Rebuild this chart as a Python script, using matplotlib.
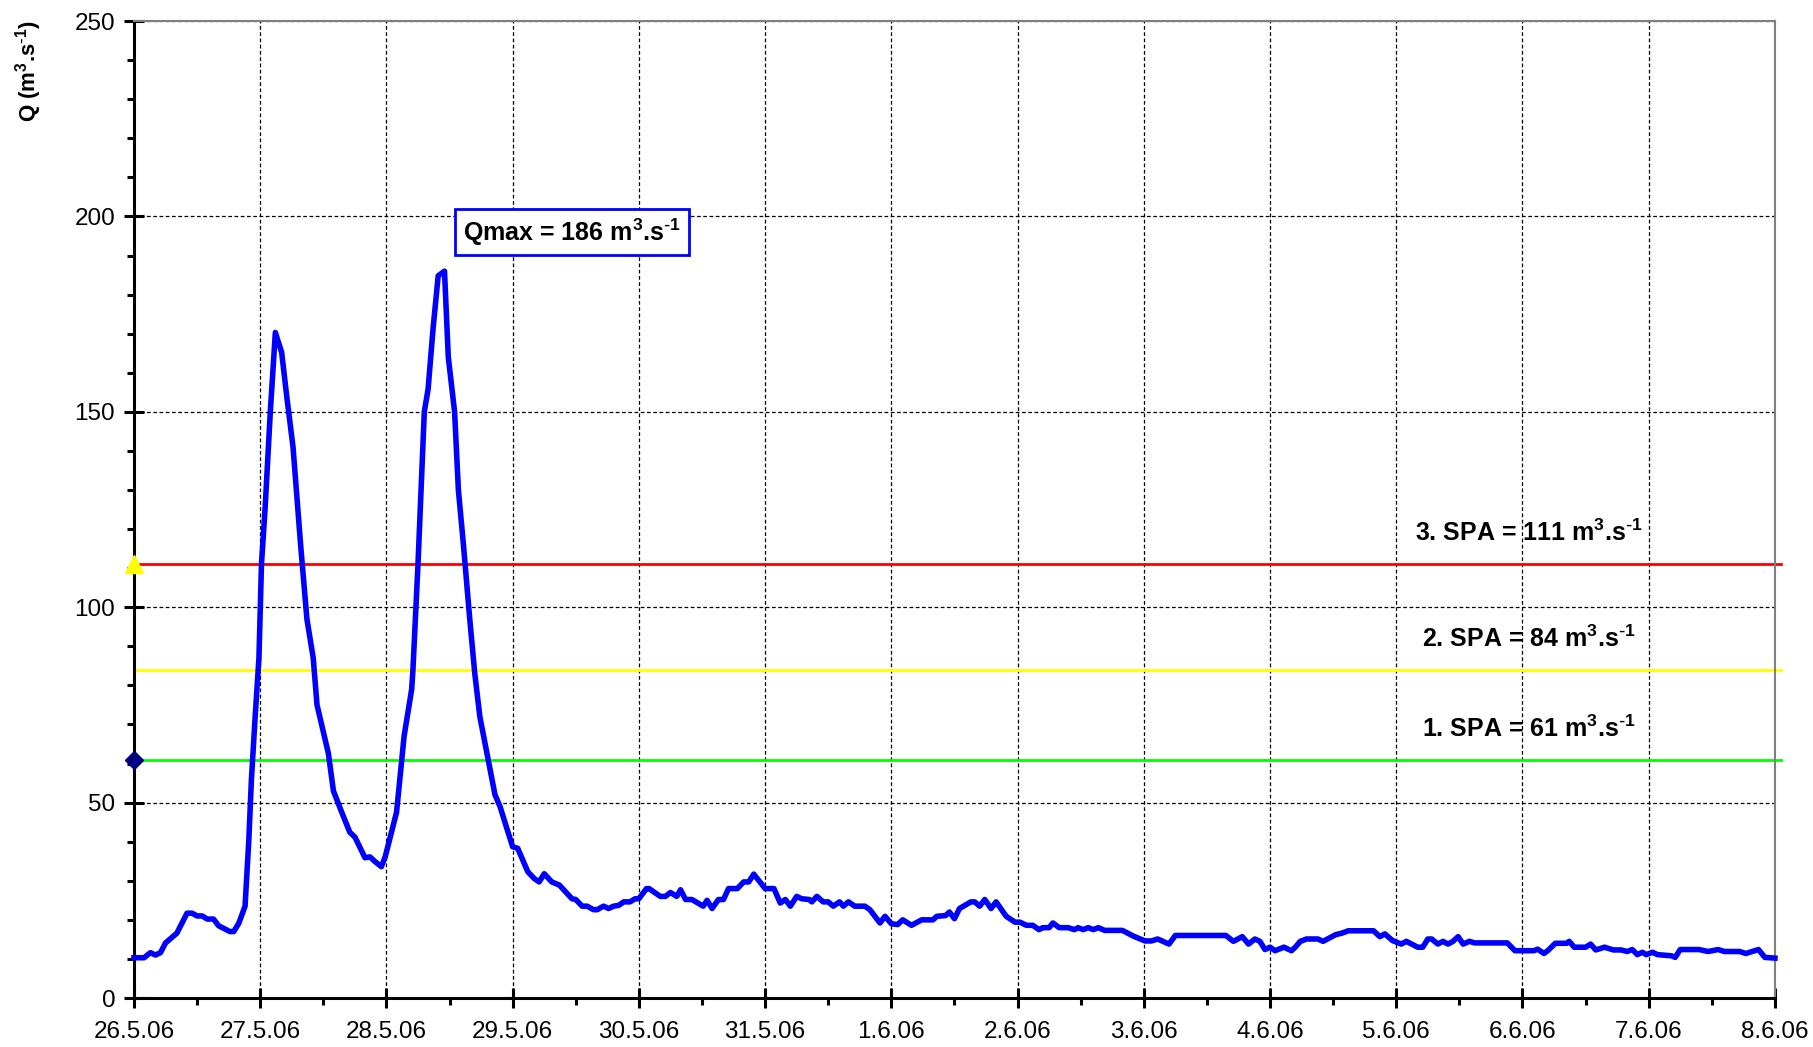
import matplotlib
matplotlib.use("Agg")
import matplotlib.pyplot as plt
from matplotlib.ticker import MultipleLocator

plt.rcParams["font.family"] = ["Liberation Sans", "DejaVu Sans"]
plt.rcParams["mathtext.default"] = "regular"

# discharge Q (m3/s), time in days since 26.5.06 00:00
t_days = [
    0.00, 0.08, 0.13, 0.17, 0.21, 0.25, 0.34, 0.42, 0.46, 0.50, 0.54, 0.58, 0.63,
    0.67, 0.76, 0.79, 0.83, 0.88, 0.91, 0.93, 0.96, 0.99, 1.01, 1.04, 1.08, 1.12,
    1.17, 1.21, 1.26, 1.32, 1.37, 1.42, 1.45, 1.49, 1.54, 1.58, 1.64, 1.71, 1.75,
    1.83, 1.87, 1.91, 1.96, 1.99, 2.08, 2.14, 2.20, 2.21, 2.25, 2.30, 2.33, 2.37,
    2.41, 2.46, 2.49, 2.54, 2.57, 2.61, 2.66, 2.70, 2.74, 2.80, 2.86, 2.90, 2.95,
    3.00, 3.04, 3.12, 3.17, 3.21, 3.25, 3.31, 3.37, 3.47, 3.50, 3.55, 3.59, 3.64,
    3.67, 3.72, 3.76, 3.80, 3.84, 3.88, 3.93, 3.97, 4.00, 4.06, 4.08, 4.17, 4.21,
    4.25, 4.30, 4.33, 4.37, 4.42, 4.51, 4.54, 4.58, 4.63, 4.67, 4.71, 4.78, 4.83,
    4.87, 4.91, 5.00, 5.07, 5.12, 5.16, 5.20, 5.25, 5.29, 5.35, 5.37, 5.41, 5.46,
    5.50, 5.54, 5.59, 5.62, 5.66, 5.71, 5.79, 5.83, 5.91, 5.95, 6.00, 6.05, 6.09,
    6.16, 6.24, 6.33, 6.36, 6.43, 6.46, 6.50, 6.54, 6.63, 6.66, 6.70, 6.74, 6.79,
    6.83, 6.91, 6.98, 7.02, 7.07, 7.12, 7.17, 7.20, 7.25, 7.28, 7.33, 7.40, 7.45,
    7.48, 7.52, 7.56, 7.60, 7.64, 7.69, 7.83, 7.92, 8.01, 8.06, 8.11, 8.20, 8.25,
    8.65, 8.71, 8.78, 8.83, 8.88, 8.92, 8.96, 9.00, 9.04, 9.11, 9.17, 9.20, 9.24,
    9.29, 9.38, 9.42, 9.52, 9.57, 9.62, 9.82, 9.87, 9.91, 9.97, 10.04, 10.08, 10.17,
    10.21, 10.25, 10.28, 10.33, 10.37, 10.41, 10.45, 10.49, 10.53, 10.58, 10.62,
    10.88, 10.94, 11.09, 11.12, 11.17, 11.20, 11.26, 11.35, 11.37, 11.41, 11.50,
    11.54, 11.58, 11.65, 11.72, 11.78, 11.83, 11.87, 11.91, 11.95, 11.98, 12.03,
    12.07, 12.18, 12.21, 12.25, 12.40, 12.47, 12.55, 12.60, 12.72, 12.77, 12.87,
    12.92, 13.00,
]
q = [
    10.3, 10.3, 11.6, 11.0, 11.6, 14.1, 16.6, 21.7, 21.7, 21.0, 21.0, 20.2, 20.2,
    18.5, 17.0, 17.0, 19.1, 23.5, 40.6, 55.7, 72.0, 87.0, 111.0, 126.0, 150.0, 170.3,
    165.2, 154.0, 141.0, 116.0, 97.0, 87.0, 75.0, 69.5, 62.6, 53.0, 48.0, 42.4, 41.2,
    35.9, 36.1, 34.9, 33.6, 36.1, 47.5, 67.0, 79.0, 84.0, 111.0, 150.0, 155.8, 171.5,
    184.8, 186.0, 164.0, 150.0, 130.0, 116.0, 97.0, 83.0, 72.0, 62.0, 52.0, 49.0, 43.8,
    38.7, 38.3, 32.3, 30.6, 29.7, 31.8, 29.7, 28.9, 25.4, 25.2, 23.5, 23.5, 22.6,
    22.6, 23.5, 22.9, 23.5, 23.7, 24.6, 24.6, 25.4, 25.4, 28.0, 28.0, 26.0, 26.0,
    27.0, 26.0, 27.7, 25.2, 25.2, 23.5, 25.0, 22.9, 25.2, 25.2, 28.0, 28.0, 29.7,
    29.7, 31.7, 28.0, 28.0, 24.3, 25.2, 23.5, 26.0, 25.4, 25.2, 24.6, 26.0, 24.6,
    24.6, 23.5, 24.6, 23.5, 24.6, 23.5, 23.5, 22.6, 19.2, 20.9, 19.0, 18.8, 20.0,
    18.6, 20.0, 20.0, 20.9, 21.1, 22.0, 20.3, 22.9, 24.6, 24.6, 23.5, 25.2, 22.9,
    24.6, 20.9, 19.4, 19.4, 18.6, 18.6, 17.5, 18.0, 18.0, 19.2, 18.0, 18.0, 17.5,
    18.0, 17.5, 18.0, 17.5, 18.0, 17.3, 17.3, 15.8, 14.6, 14.6, 15.1, 13.8, 16.0,
    16.0, 14.5, 15.7, 13.8, 15.1, 14.5, 12.4, 13.0, 12.1, 13.0, 12.1, 13.0, 14.5,
    15.1, 15.1, 14.5, 16.2, 16.6, 17.2, 17.2, 15.7, 16.4, 14.7, 13.8, 14.5, 13.0,
    13.0, 15.1, 15.1, 13.8, 14.5, 13.8, 14.5, 15.7, 13.8, 14.5, 14.1,
    14.1, 12.1, 12.1, 12.5, 11.4, 12.1, 14.0, 14.0, 14.5, 13.0, 13.0,
    13.8, 12.3, 13.0, 12.3, 12.3, 11.9, 12.4, 11.1, 11.7, 11.1, 11.7,
    11.1, 10.8, 10.4, 12.4, 12.4, 11.9, 12.4, 11.9, 11.9, 11.4, 12.4,
    10.4, 10.2,
]

date_labels = ["26.5.06", "27.5.06", "28.5.06", "29.5.06", "30.5.06", "31.5.06",
               "1.6.06", "2.6.06", "3.6.06", "4.6.06", "5.6.06", "6.6.06",
               "7.6.06", "8.6.06"]

# flood warning levels (SPA)
spa_names = ["1. SPA", "2. SPA", "3. SPA"]
spa_levels = [61, 84, 111]
spa_colors = ["#00ff00", "#ffff00", "#ff0000"]
q_max = 186

unit = r"m$^3$.s$^{\text{-}1}$"

fig = plt.figure(figsize=(18.13, 10.47), dpi=100)
ax = fig.add_axes([0.0739, 0.0468, 0.9051, 0.9331])
ax.set_axisbelow(True)

ax.grid(True, which="major", color="black", linestyle=(0, (3, 2)), linewidth=0.9)

for name, lvl, col in zip(spa_names, spa_levels, spa_colors):
    ax.axhline(lvl, xmax=1.004, color=col, linewidth=2, clip_on=False, zorder=2)
    ax.text(11.05, lvl + 8, f"{name} = {lvl} " + unit, ha="center",
            va="center", fontsize=18, fontweight="bold")

ax.plot(t_days, q, color="blue", linewidth=4, zorder=3, clip_on=False)

# level markers on the y axis
ax.plot(0, spa_levels[2], marker="^", color="yellow", markersize=13,
        clip_on=False, zorder=5)
ax.plot(0, spa_levels[0], marker="D", color="#000080", markersize=9,
        clip_on=False, zorder=5)

ax.text(3.47, 196, f"Qmax = {q_max} " + unit, ha="center", va="center",
        fontsize=18, fontweight="bold",
        bbox=dict(boxstyle="square,pad=0.3", fc="white", ec="blue", lw=2))

ax.set_xlim(0, 13)
ax.set_ylim(0, 250)
ax.set_xticks(range(len(date_labels)))
ax.set_xticklabels(date_labels)
ax.xaxis.set_minor_locator(MultipleLocator(0.5))
ax.yaxis.set_major_locator(MultipleLocator(50))
ax.yaxis.set_minor_locator(MultipleLocator(10))
ax.tick_params(which="major", direction="inout", length=15, width=2.2,
               labelsize=17.5, pad=6)
ax.tick_params(axis="x", which="major", pad=9)
ax.tick_params(which="minor", direction="out", length=5, width=2.2)

for side in ["left", "bottom"]:
    ax.spines[side].set_linewidth(2.2)
for side in ["top", "right"]:
    ax.spines[side].set_color("#808080")
    ax.spines[side].set_linewidth(1.5)

fig.text(0.016, 0.981, r"Q (m$^3$.s$^{\text{-}1}$)", rotation=90, ha="center",
         va="top", fontsize=16, fontweight="bold")

fig.savefig("out.png", dpi=100)
